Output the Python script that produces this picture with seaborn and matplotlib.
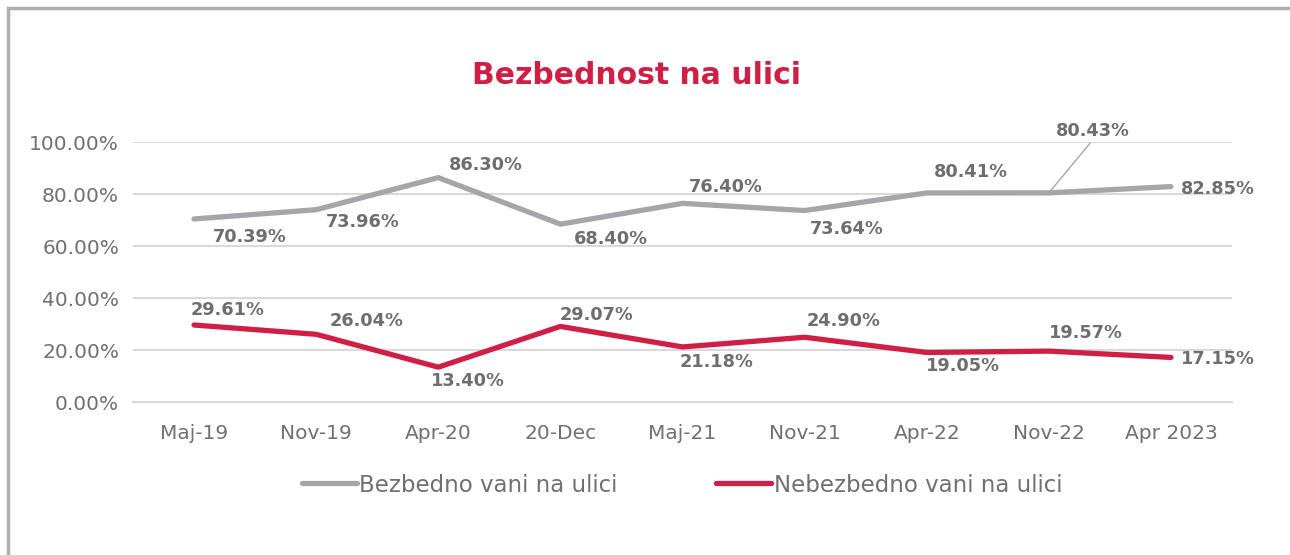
import matplotlib
matplotlib.use("Agg")
import matplotlib.pyplot as plt
import seaborn as sns
import pandas as pd
import numpy as np
from matplotlib.patches import Rectangle
from matplotlib.ticker import FixedLocator, FuncFormatter

categories = ["Maj-19", "Nov-19", "Apr-20", "20-Dec", "Maj-21", "Nov-21", "Apr-22", "Nov-22", "Apr 2023"]
safe = [70.39, 73.96, 86.30, 68.40, 76.40, 73.64, 80.41, 80.43, 82.85]
unsafe = [29.61, 26.04, 13.40, 29.07, 21.18, 24.90, 19.05, 19.57, 17.15]
series_names = ["Bezbedno vani na ulici", "Nebezbedno vani na ulici"]
title = "Bezbednost na ulici"

# label offsets in pixels (dx, dy up)
safe_off = [(56, -18), (47, -12), (48, 13), (50, -15), (43, 16), (42, -18), (44, 21), (44, 62), (10, -2)]
unsafe_off = [(34, 15), (50, 13), (30, -14), (36, 11), (34, -15), (39, 16), (36, -14), (37, 18), (10, -2)]

GREY = "#A5A5AA"
RED = "#D01F45"
TXT = "#707070"
LBL = "#6E6E6E"
GRID = "#D9D9D9"

sns.set_theme(style="white")
plt.rcParams["font.family"] = ["DejaVu Sans"]

df = pd.DataFrame({
    "x": categories * 2,
    "v": safe + unsafe,
    "s": [series_names[0]] * len(categories) + [series_names[1]] * len(categories),
})

fig = plt.figure(figsize=(12.9, 5.55), dpi=100)
ax = fig.add_axes([133 / 1290, 1 - 402 / 555, (1232 - 133) / 1290, 260 / 555])

sns.lineplot(data=df, x="x", y="v", hue="s", palette=[GREY, RED], sort=False,
             linewidth=3.8, ax=ax, legend=False, solid_capstyle="round")

ax.set_xlim(-0.5, len(categories) - 0.5)
ax.set_ylim(0, 100)
ax.set_xlabel("")
ax.set_ylabel("")
ax.set_yticks(np.arange(0, 101, 20))
ax.yaxis.set_major_formatter(FuncFormatter(lambda v, p: f"{v:.2f}%"))
ax.grid(axis="y", color=GRID, linewidth=1.5)
ax.set_axisbelow(True)
for s in ["top", "right", "left"]:
    ax.spines[s].set_visible(False)
ax.spines["bottom"].set_color(GRID)
ax.spines["bottom"].set_linewidth(1.5)
ax.tick_params(axis="y", length=0, labelsize=14.5, labelcolor=TXT, pad=10)
ax.set_xticks(range(len(categories)))
ax.set_xticklabels(categories)
ax.tick_params(axis="x", which="major", length=0, labelsize=14.5, labelcolor=TXT, pad=16)
ax.xaxis.set_minor_locator(FixedLocator(np.arange(-0.5, len(categories), 1)))
ax.tick_params(axis="x", which="minor", length=7, width=1.5, color=GRID, direction="out")

for i, (v, off) in enumerate(zip(safe, safe_off)):
    ha = "left" if i == len(categories) - 1 else "center"
    kw = {}
    if i == 7:
        kw["arrowprops"] = dict(arrowstyle="-", color="#A6A6A6", lw=1.0, shrinkA=0, shrinkB=0,
                                relpos=(0.5, 0.0))
    ax.annotate(f"{v:.2f}%", (i, v), xytext=off, textcoords="offset pixels",
                ha=ha, va="center", fontsize=12.8, fontweight="bold", color=LBL,
                annotation_clip=False, **kw)
for i, (v, off) in enumerate(zip(unsafe, unsafe_off)):
    ha = "left" if i == len(categories) - 1 else "center"
    ax.annotate(f"{v:.2f}%", (i, v), xytext=off, textcoords="offset pixels",
                ha=ha, va="center", fontsize=12.8, fontweight="bold", color=LBL,
                annotation_clip=False)

fig.text(636 / 1290, 1 - 76 / 555, title, ha="center", va="center",
         fontsize=21.5, fontweight="bold", color=RED)

handles = [plt.Line2D([], [], color=GREY, lw=3.8, solid_capstyle="round"),
           plt.Line2D([], [], color=RED, lw=3.8, solid_capstyle="round")]
leg = fig.legend(handles, series_names, loc="center", bbox_to_anchor=(682 / 1290, 1 - 485 / 555),
                 ncol=2, frameon=False, fontsize=16.5, handlelength=2.4, handletextpad=0.12,
                 columnspacing=4.3)
for t in leg.get_texts():
    t.set_color(TXT)

fig.patches.append(Rectangle((7.5 / 1290, -0.1), 1.2, 1 - 8 / 555 + 0.1, transform=fig.transFigure,
                             fill=False, edgecolor="#AEAEB3", linewidth=2.5))

fig.savefig("out.png", dpi=100)
